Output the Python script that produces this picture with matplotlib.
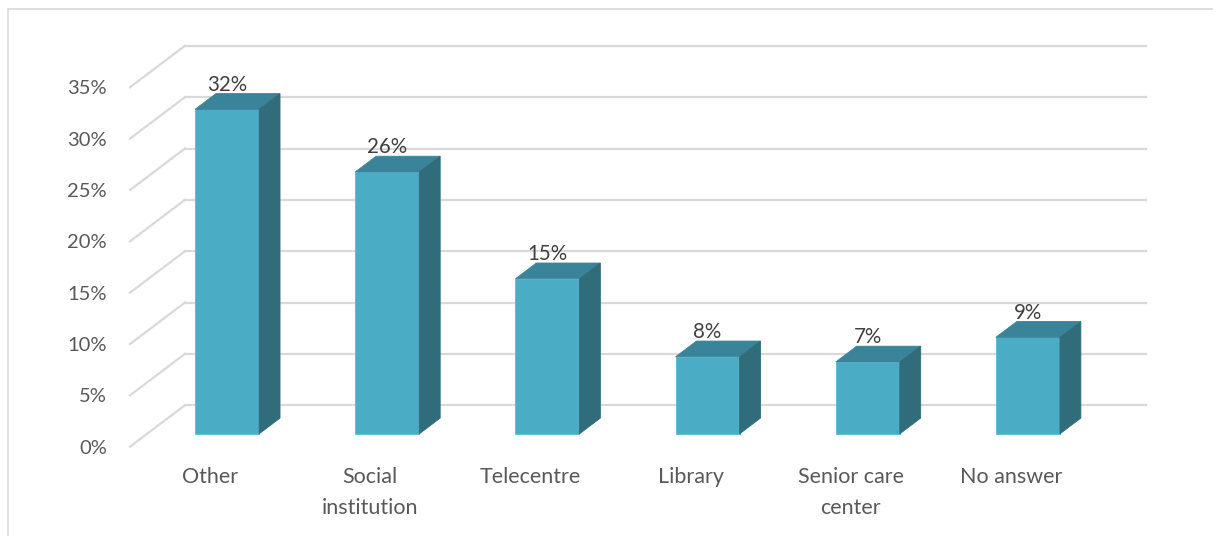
import matplotlib.pyplot as plt
from matplotlib.patches import Polygon
from matplotlib.lines import Line2D
from matplotlib.ticker import PercentFormatter

plt.rcParams['font.family'] = ['Lato', 'DejaVu Sans']

# data
categories = ["Other", "Social\ninstitution", "Telecentre", "Library", "Senior care\ncenter", "No answer"]
values = [31.6, 25.5, 15.1, 7.5, 7.0, 9.4]
value_labels = ["32%", "26%", "15%", "8%", "7%", "9%"]
y_ticks = [0, 5, 10, 15, 20, 25, 30, 35]

# colours of the 3D column faces
front_col = "#4BACC6"
top_col = "#3A8499"
side_col = "#316C7B"
grid_col = "#D9D9D9"

W, H = 1213, 536
fig = plt.figure(figsize=(W / 100, H / 100), dpi=100)

# the axes is the front plane of the 3D box: x in categories, y in percent
ax = fig.add_axes([130 / W, (H - 446.7) / H, 961 / W, 359.4 / H])
n = len(categories)
ax.set_xlim(0, n)
ax.set_ylim(0, 35)

# depth of the box (back wall offset) in data units
dx, dy = 0.343, 4.04
f0, f1 = 0.31, 0.69   # front/back position of the columns inside the depth
bw = 0.4              # column width

# back wall gridlines and the left-side diagonals
for t in y_ticks:
    ax.plot([dx, n + dx], [t + dy, t + dy], color=grid_col, lw=1.6, clip_on=False, zorder=1)
    ax.plot([0, dx], [t, t + dy], color=grid_col, lw=1.6, clip_on=False, zorder=1)

# columns
for i, v in enumerate(values):
    x0 = i + 0.5 - bw / 2 + f0 * dx
    x1 = x0 + bw
    y0 = f0 * dy
    ex, ey = (f1 - f0) * dx, (f1 - f0) * dy
    front = [(x0, y0), (x1, y0), (x1, y0 + v), (x0, y0 + v)]
    top = [(x0, y0 + v), (x1, y0 + v), (x1 + ex, y0 + v + ey), (x0 + ex, y0 + v + ey)]
    side = [(x1, y0), (x1 + ex, y0 + ey), (x1 + ex, y0 + v + ey), (x1, y0 + v)]
    ax.add_patch(Polygon(front, closed=True, facecolor=front_col, edgecolor="#5BBAD3", lw=0.6, clip_on=False, zorder=3))
    ax.add_patch(Polygon(top, closed=True, facecolor=top_col, edgecolor=top_col, lw=0.6, clip_on=False, zorder=3))
    ax.add_patch(Polygon(side, closed=True, facecolor=side_col, edgecolor=side_col, lw=0.6, clip_on=False, zorder=3))
    ax.annotate(value_labels[i], xy=((x0 + x1) / 2, y0 + v + ey), xytext=(0, 2),
                textcoords="offset points", ha="center", va="baseline",
                fontsize=14.8, color="#404040", annotation_clip=False, zorder=4)

# axes: ticks and labels only
ax.set_yticks(y_ticks)
ax.yaxis.set_major_formatter(PercentFormatter(decimals=0))
ax.set_xticks([i + 0.5 for i in range(n)])
ax.set_xticklabels(categories, linespacing=1.7)
ax.tick_params(axis="y", length=0, pad=16.5, labelsize=14.5, labelcolor="#595959")
ax.tick_params(axis="x", length=0, pad=14.5, labelsize=15.5, labelcolor="#595959")
for s in ax.spines.values():
    s.set_visible(False)
ax.patch.set_visible(False)

# chart area border (left and top are visible)
fig.add_artist(Line2D([8 / W, 8 / W], [0, 1 - 9 / H], color=grid_col, lw=1.2))
fig.add_artist(Line2D([8 / W, 1], [1 - 9 / H, 1 - 9 / H], color=grid_col, lw=1.2))

fig.savefig("out.png", dpi=100)
